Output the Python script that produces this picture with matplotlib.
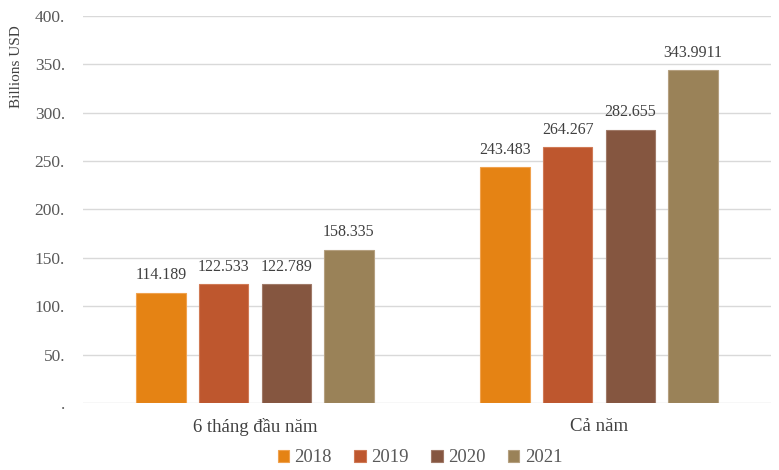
import numpy as np
import matplotlib.pyplot as plt

plt.rcParams['font.family'] = ['Liberation Serif', 'DejaVu Serif']

categories = ['6 tháng đầu năm', 'Cả năm']
years = ['2018', '2019', '2020', '2021']
values = {
    '2018': [114.189, 243.483],
    '2019': [122.533, 264.267],
    '2020': [122.789, 282.655],
    '2021': [158.335, 343.9911],
}
value_labels = {
    '2018': ['114.189', '243.483'],
    '2019': ['122.533', '264.267'],
    '2020': ['122.789', '282.655'],
    '2021': ['158.335', '343.9911'],
}
yticks = [0, 50, 100, 150, 200, 250, 300, 350, 400]
ytick_labels = ['.', '50.', '100.', '150.', '200.', '250.', '300.', '350.', '400.']
colors = ['#E58314', '#BE572E', '#855640', '#9A8258']
edges = ['#F0A24E', '#D07A55', '#A07A68', '#B5A080']

text_col = '#595959'

fig = plt.figure(figsize=(7.79, 4.70), dpi=100)
ax = fig.add_axes([83 / 779, 1 - 403 / 470, 688 / 779, 387 / 470])

x = np.arange(len(categories))
width = 0.143
step = 0.182
for i, yr in enumerate(years):
    pos = x + (i - 1.5) * step
    ax.bar(pos, values[yr], width, color=colors[i], edgecolor=edges[i],
           linewidth=0.8, label=yr, zorder=3)
    for px, v, lab in zip(pos, values[yr], value_labels[yr]):
        ax.text(px, v + 10, lab, ha='center', va='bottom', fontsize=11.5,
                color='#404040')

ax.set_xlim(-0.5, 1.5)
ax.set_ylim(0, 400)
ax.set_yticks(yticks)
ax.set_yticklabels(ytick_labels, fontsize=12.5, color=text_col)
ax.set_xticks(x)
ax.set_xticklabels(categories, fontsize=13.5, color='#404040')
ax.tick_params(axis='both', length=0)
ax.tick_params(axis='y', pad=13)
ax.tick_params(axis='x', pad=11)
ax.grid(axis='y', color='#D9D9D9', linewidth=1, zorder=0)
for s in ax.spines.values():
    s.set_visible(False)

fig.text(17 / 779, 1 - 67 / 470, 'Billions USD', rotation=90, ha='center',
         va='center', fontsize=11, color='#404040')

fig.legend(loc='center', bbox_to_anchor=(420 / 779, 1 - 458 / 470), ncol=4,
           frameon=False, fontsize=13.5, handlelength=0.6, handleheight=0.6,
           handletextpad=0.3, columnspacing=1.2, labelcolor=text_col)

fig.savefig('out.png', dpi=100)
